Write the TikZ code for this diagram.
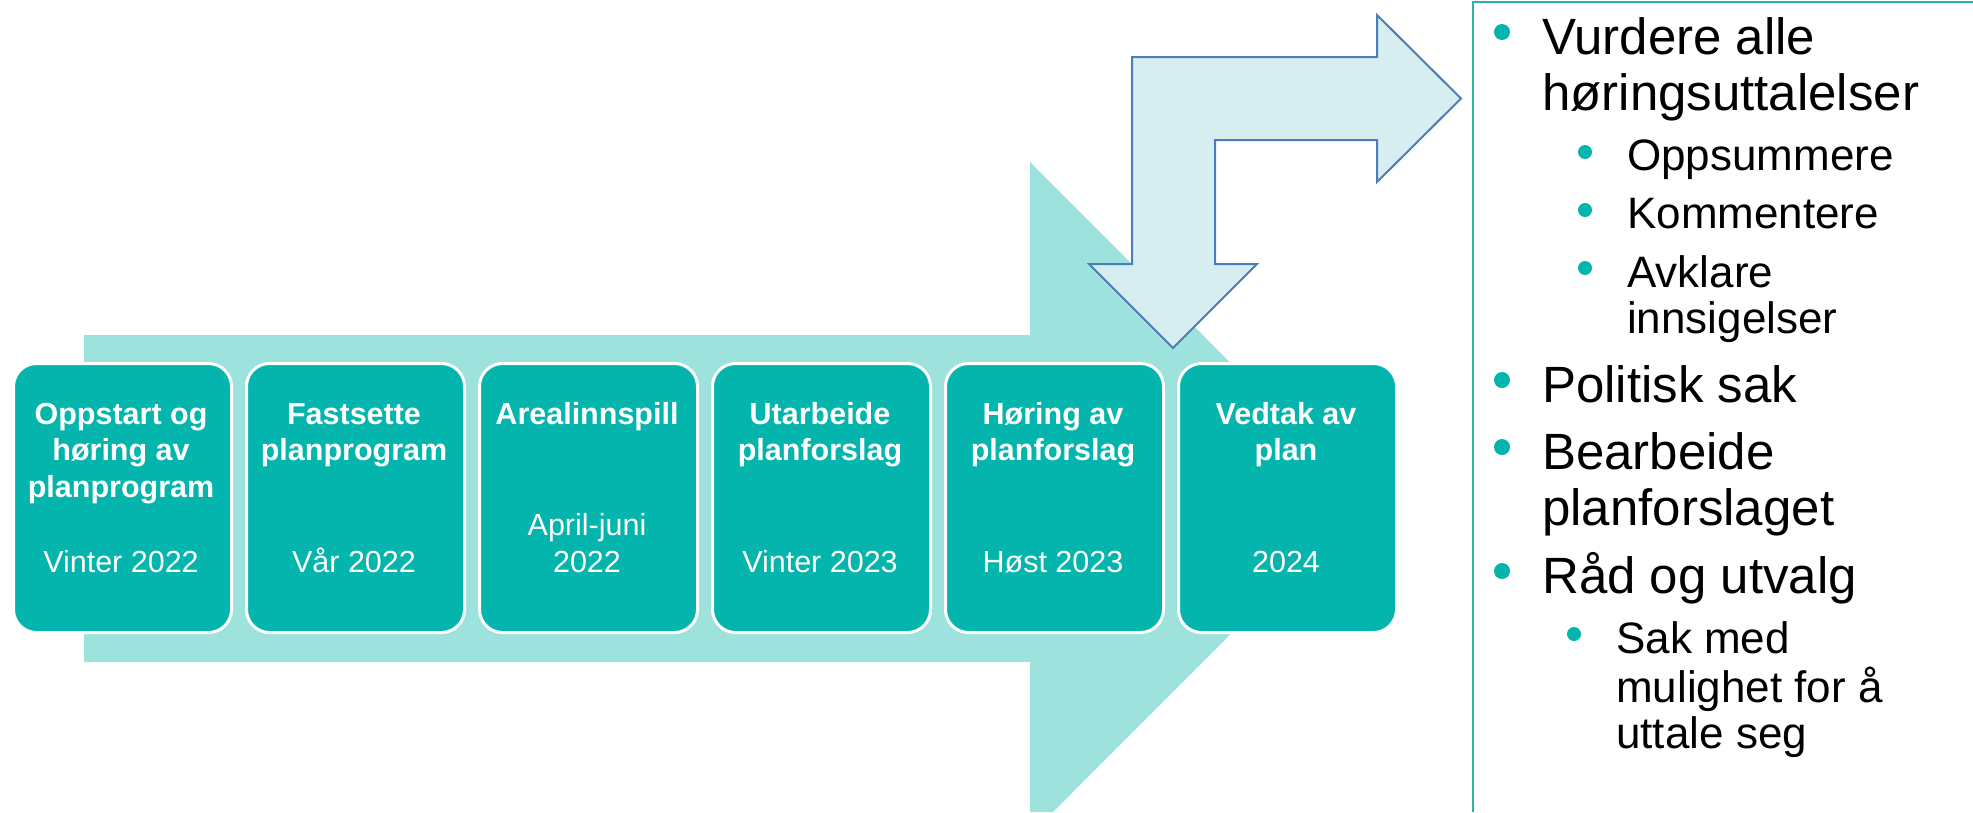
\documentclass[tikz,border=0pt]{standalone}
\usepackage{fontspec}
\setmainfont{Liberation Sans}
\definecolor{bigarrow}{HTML}{9EE2DD}
\definecolor{boxteal}{HTML}{03B5AC}
\definecolor{bentfill}{HTML}{D6EEEF}
\definecolor{bentline}{HTML}{4A7EBB}
\definecolor{panelline}{HTML}{2BB3A9}
\begin{document}
\begin{tikzpicture}[x=1pt,y=-1pt,
  stage/.style={fill=boxteal, draw=white, line width=3pt, rounded corners=23pt,
    minimum width=218pt, minimum height=269pt, anchor=north west, inner sep=0},
  head/.style={text=white, font=\fontsize{30.5}{36}\selectfont\bfseries, inner sep=0, anchor=base},
  datetxt/.style={text=white, font=\fontsize{30.5}{36}\selectfont, inner sep=0, anchor=base},
  lvlone/.style={font=\fontsize{51}{56}\selectfont, inner sep=0, anchor=base west},
  lvltwo/.style={font=\fontsize{44}{48}\selectfont, inner sep=0, anchor=base west},
  dotone/.style={circle, fill=boxteal, minimum size=16pt, inner sep=0},
  dottwo/.style={circle, fill=boxteal, minimum size=14pt, inner sep=0}]
\useasboundingbox (0,0) rectangle (1973,812);
% big background arrow
\fill[bigarrow] (84,335) -- (1030,335) -- (1030,162) -- (1366,498.5) -- (1053,812)
  -- (1030,812) -- (1030,662) -- (84,662) -- cycle;
% stage boxes
\node[stage] (s1) at (12,362) {};
\node[stage] (s2) at (245,362) {};
\node[stage] (s3) at (478,362) {};
\node[stage] (s4) at (711,362) {};
\node[stage] (s5) at (944,362) {};
\node[stage] (s6) at (1177,362) {};
% box 1
\node[head] (h1a) at (121,424) {Oppstart og};
\node[head] (h1b) at (121,460.5) {høring av};
\node[head] (h1c) at (121,497) {planprogram};
\node[datetxt] (d1) at (121,572) {Vinter 2022};
% box 2
\node[head] (h2a) at (354,424) {Fastsette};
\node[head] (h2b) at (354,460.5) {planprogram};
\node[datetxt] (d2) at (354,572) {Vår 2022};
% box 3
\node[head] (h3a) at (587,424) {Arealinnspill};
\node[datetxt] (d3a) at (587,535.5) {April-juni};
\node[datetxt] (d3b) at (587,572) {2022};
% box 4
\node[head] (h4a) at (820,424) {Utarbeide};
\node[head] (h4b) at (820,460.5) {planforslag};
\node[datetxt] (d4) at (820,572) {Vinter 2023};
% box 5
\node[head] (h5a) at (1053,424) {Høring av};
\node[head] (h5b) at (1053,460.5) {planforslag};
\node[datetxt] (d5) at (1053,572) {Høst 2023};
% box 6
\node[head] (h6a) at (1286,424) {Vedtak av};
\node[head] (h6b) at (1286,460.5) {plan};
\node[datetxt] (d6) at (1286,572) {2024};
% bent arrow
\draw[fill=bentfill, draw=bentline, line width=2pt, line join=miter]
  (1132,264) -- (1132,57) -- (1377,57) -- (1377,15) -- (1461,98.5) -- (1377,182)
  -- (1377,140) -- (1215,140) -- (1215,264) -- (1257,264) -- (1173,348) -- (1089,264) -- cycle;
% panel border
\draw[panelline, line width=2pt] (1973,2) -- (1473,2) -- (1473,812);
% panel text
\node[dotone] (b1) at (1502,32) {};
\node[lvlone] (t1a) at (1542,54) {Vurdere alle};
\node[lvlone] (t1b) at (1542,110) {høringsuttalelser};
\node[dottwo] (b11) at (1585,152) {};
\node[lvltwo] (t11) at (1627,170) {Oppsummere};
\node[dottwo] (b12) at (1585,210) {};
\node[lvltwo] (t12) at (1627,228) {Kommentere};
\node[dottwo] (b13) at (1585,268) {};
\node[lvltwo] (t13a) at (1627,287) {Avklare};
\node[lvltwo] (t13b) at (1627,333) {innsigelser};
\node[dotone] (b2) at (1502,380) {};
\node[lvlone] (t2) at (1542,402) {Politisk sak};
\node[dotone] (b3) at (1502,447) {};
\node[lvlone] (t3a) at (1542,469) {Bearbeide};
\node[lvlone] (t3b) at (1542,525) {planforslaget};
\node[dotone] (b4) at (1502,571) {};
\node[lvlone] (t4) at (1542,593) {Råd og utvalg};
\node[dottwo] (b41) at (1574,634) {};
\node[lvltwo] (t41a) at (1616,653) {Sak med};
\node[lvltwo] (t41b) at (1616,702) {mulighet for å};
\node[lvltwo] (t41c) at (1616,748) {uttale seg};
\end{tikzpicture}
\end{document}
